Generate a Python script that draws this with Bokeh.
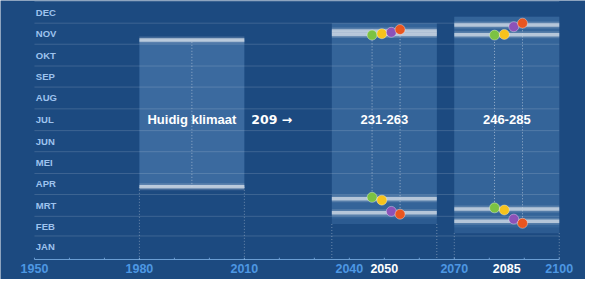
from bokeh.plotting import figure
from bokeh.models import Range1d
from bokeh.embed import file_html
from bokeh.resources import INLINE
from bokeh.core.properties import value

# ---------------- data ----------------
months = ["JAN", "FEB", "MRT", "APR", "MEI", "JUN", "JUL", "AUG", "SEP", "OKT", "NOV", "DEC"]
month_days = [31, 28, 31, 30, 31, 30, 31, 31, 30, 31, 30, 31]

axis_years = [1950, 1980, 2010, 2040, 2070, 2100]
highlight_years = [2050, 2085]
decade_ticks = [1950, 1960, 1970, 1980, 1990, 2000, 2010, 2020, 2030,
                2040, 2050, 2060, 2070, 2080, 2090, 2100]

current_label = "Huidig klimaat"
current_period = [1980, 2010]
current_mid = 1995
current_start = 101   # day of year
current_end = 310

scenarios = ["G", "G+", "W", "W+"]
scenario_colors = ["#7cc242", "#f6c21c", "#8c52b8", "#e9561f"]

future_years = [2050, 2085]
future_periods = [[2035, 2065], [2070, 2100]]
start_2050 = [86, 82, 66, 62]
end_2050 = [317, 319, 321, 325]
start_2085 = [71, 68, 55, 49]
end_2085 = [317, 318, 329, 334]
future_starts = [start_2050, start_2085]
future_ends = [end_2050, end_2085]

# ---------------- style ----------------
BG = "#1c4a80"
BOX = "#3b6a9f"
BAR = "#cdd8e5"
MONTH_COL = "#9ec3ee"
YEAR_COL = "#4d97e3"
FONT = value("Liberation Sans")
dodge = [-3.5, -0.7, 2.0, 4.5]

p = figure(width=585, height=279, output_backend="svg", toolbar_location=None,
           x_range=Range1d(1940.3, 2107.5), y_range=Range1d(-31, 366.3),
           min_border=0, background_fill_color=BG, border_fill_color=BG,
           outline_line_color=None)
p.axis.visible = False
p.grid.visible = False

AXIS_Y = -2.5

# current climate box
p.quad(left=[current_period[0]], right=[current_period[1]],
       bottom=[current_start], top=[current_end],
       fill_color=BOX, line_color=None)

# future boxes (with soft padding)
for per, st, en in zip(future_periods, future_starts, future_ends):
    lo, hi = min(st), max(en)
    p.quad(left=[per[0]], right=[per[1]], bottom=[lo - 14], top=[hi + 9],
           fill_color=BOX, fill_alpha=0.55, line_color=None)
    p.quad(left=[per[0]], right=[per[1]], bottom=[lo - 6], top=[hi + 9],
           fill_color=BOX, fill_alpha=0.6, line_color=None)

# month grid
bounds = []
acc = 0
for d in month_days:
    acc += d
    bounds.append(acc)
p.segment(x0=[1950] * len(bounds), x1=[2100] * len(bounds), y0=bounds, y1=bounds,
          line_color="white", line_alpha=0.15, line_width=1)

# month labels
mids = []
acc = 0
for d in month_days:
    mids.append(acc + d / 2)
    acc += d
p.text(x=[1950.4] * 12, y=mids, text=months, text_font=FONT, text_font_style="bold",
       text_font_size="9.5px", text_color=MONTH_COL, text_align="left",
       text_baseline="middle")

# x axis line and ticks
p.segment(x0=[1950], x1=[2100], y0=[AXIS_Y], y1=[AXIS_Y], line_color="#6d9fd4", line_width=1)
p.segment(x0=decade_ticks, x1=decade_ticks, y0=[AXIS_Y] * len(decade_ticks),
          y1=[AXIS_Y + 2.5] * len(decade_ticks), line_color="#6d9fd4", line_width=1)

p.text(x=axis_years, y=[-15] * len(axis_years), text=[str(y) for y in axis_years],
       text_font=FONT, text_font_style="bold", text_font_size="12.5px",
       text_color=YEAR_COL, text_align="center", text_baseline="middle")
p.text(x=highlight_years, y=[-15] * len(highlight_years), text=[str(y) for y in highlight_years],
       text_font=FONT, text_font_style="bold", text_font_size="12.5px",
       text_color="white", text_align="center", text_baseline="middle")

# dotted edge lines to the axis
edge_x = [current_period[0], current_period[1]]
edge_top = [current_start, current_start]
for per, st in zip(future_periods, future_starts):
    edge_x += per
    edge_top += [min(st) - 14, min(st) - 14]
p.segment(x0=edge_x, x1=edge_x, y0=edge_top, y1=[AXIS_Y] * len(edge_x),
          line_color="white", line_alpha=0.35, line_dash="1 2", line_width=1)

# current climate centre line and bars
p.segment(x0=[current_mid], x1=[current_mid], y0=[current_start], y1=[current_end],
          line_color="white", line_alpha=0.45, line_dash="1 2", line_width=1)
for d in (current_start, current_end):
    p.segment(x0=[current_period[0]], x1=[current_period[1]], y0=[d], y1=[d],
              line_color=BAR, line_alpha=0.22, line_width=7)
    p.segment(x0=[current_period[0]], x1=[current_period[1]], y0=[d], y1=[d],
              line_color=BAR, line_alpha=0.85, line_width=3.5)

# future periods
for yr, per, st, en in zip(future_years, future_periods, future_starts, future_ends):
    xs = [yr + o for o in dodge]
    # dotted lines at extremes
    for i in (0, 3):
        p.segment(x0=[xs[i]], x1=[xs[i]], y0=[st[i]], y1=[en[i]],
                  line_color="white", line_alpha=0.5, line_dash="1 2", line_width=1)
    # bars at pair means
    for pair in ((0, 1), (2, 3)):
        for vals in (st, en):
            d = (vals[pair[0]] + vals[pair[1]]) / 2
            p.segment(x0=[per[0]], x1=[per[1]], y0=[d], y1=[d],
                      line_color=BAR, line_alpha=0.22, line_width=7)
            p.segment(x0=[per[0]], x1=[per[1]], y0=[d], y1=[d],
                      line_color=BAR, line_alpha=0.8, line_width=3.5)
    # scenario dots
    for vals in (st, en):
        p.scatter(x=xs, y=vals, size=10, fill_color=scenario_colors,
                  line_color="white", line_alpha=0.35, line_width=1)
    lengths = [e - s for s, e in zip(st, en)]
    p.text(x=[(per[0] + per[1]) / 2], y=[197], text=[f"{min(lengths)}-{max(lengths)}"],
           text_font=FONT, text_font_style="bold", text_font_size="13px",
           text_color="white", text_align="center", text_baseline="middle")

p.text(x=[current_mid], y=[197], text=[current_label], text_font=FONT,
       text_font_style="bold", text_font_size="13px", text_color="white",
       text_align="center", text_baseline="middle")
p.text(x=[2012], y=[197], text=[f"{current_end - current_start} \u2192"],
       text_font=value("DejaVu Sans"), text_font_style="bold", text_font_size="12.5px",
       text_color="white", text_align="left", text_baseline="middle")

open("out.html", "w").write(file_html(p, INLINE))
